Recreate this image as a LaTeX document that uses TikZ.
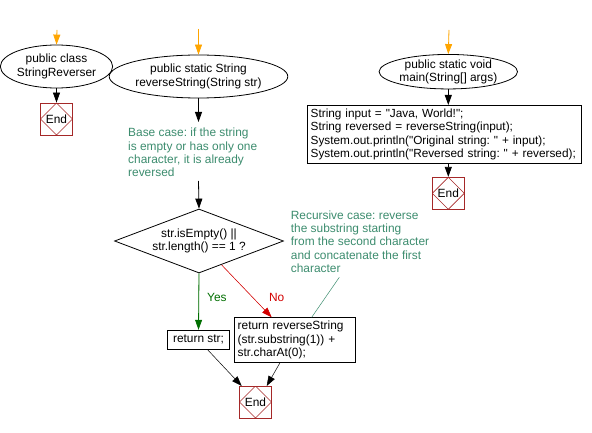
\documentclass[tikz,border=0pt]{standalone}
\usepackage{fontspec}
\setmainfont{Liberation Sans}
\usetikzlibrary{shapes.geometric,arrows.meta}
\definecolor{cmtgreen}{RGB}{60,140,110}
\definecolor{endred}{RGB}{165,40,40}
\definecolor{yesgreen}{RGB}{0,110,0}
\definecolor{nored}{RGB}{210,0,0}
\definecolor{startorange}{RGB}{255,165,0}
\newcommand{\qq}{\textquotedbl}
\frenchspacing
\tikzset{
  every node/.style={font=\fontsize{11.9}{13.3}\selectfont\frenchspacing, inner sep=0pt},
  oval/.style={draw, ellipse, align=center, line width=0.8pt},
  procbox/.style={draw, rectangle, line width=0.8pt, inner sep=3pt},
  endbox/.style={draw=endred, rectangle, minimum width=32pt, minimum height=32pt, line width=0.8pt,
    path picture={\draw[endred, line width=0.6pt] (path picture bounding box.north) -- (path picture bounding box.east) -- (path picture bounding box.south) -- (path picture bounding box.west) -- cycle;}},
  decision/.style={draw, diamond, aspect=2.64, align=center, line width=0.8pt},
  comment/.style={text=cmtgreen, align=left},
  arr/.style={-{Triangle[length=10pt,width=7pt]}, line width=0.8pt},
  startarr/.style={arr, draw=startorange, fill=startorange},
}
\begin{document}
\begin{tikzpicture}[x=1pt,y=-1pt]
\useasboundingbox (0,0) rectangle (592,433);
% left column
\coordinate (s1) at (57,30);
\node[oval, minimum width=103pt, minimum height=43pt] (c1) at (56.5,66.5) {public class\\StringReverser};
\node[endbox] (e1) at (56.5,119) {End};
\draw[startarr] (s1) -- (c1.north);
\draw[arr] (c1.south) -- (e1.north);
% middle column
\coordinate (s2) at (198.5,29);
\node[oval, minimum width=151pt, minimum height=43pt] (c2) at (198.5,76.5) {public static String\\reverseString(String str)};
\coordinate (m1) at (198.5,122);
\node[comment, anchor=west] (com1) at (128,152.5) {Base case: if the string\\is empty or has only one\\character, it is already\\reversed};
\coordinate (m2) at (198.5,181);
\node[decision, minimum width=169pt, minimum height=64pt] (d) at (199,241) {str.isEmpty() ||\\str.length() == 1 ?};
\node[procbox, minimum width=62pt, minimum height=19pt] (r1) at (198.5,339.7) {return str;};
\node[procbox, minimum width=121pt, minimum height=45pt, align=left, anchor=north west, text width=115pt] (r2) at (234.3,317.3) {return reverseString\\(str.substring(1)) +\\str.charAt(0);};
\node[endbox] (e2) at (255.5,402) {End};
\node[comment, anchor=west] (com2) at (290.7,241.5) {Recursive case: reverse\\the substring starting\\from the second character\\and concatenate the first\\character};
\draw[startarr] (s2) -- (c2.north);
\draw[arr] (c2.south) -- (m1);
\draw[arr] (m2) -- (d.north);
\draw[arr, draw=yesgreen, fill=yesgreen] (d.south) -- node[right=8pt, text=yesgreen, pos=0.42] (yes) {Yes} (r1.north);
\coordinate (dno) at (221.7,265);
\coordinate (rno) at (271.7,317.3);
\draw[arr, draw=nored, fill=nored, line width=0.5pt] (dno) -- (rno);
\node[text=nored] (no) at (276.7,297) {No};
\coordinate (r1b) at (207.3,349.4);
\coordinate (e2a) at (241.7,386);
\draw[arr, line width=0.5pt] (r1b) -- (e2a);
\coordinate (r2b) at (280,362.7);
\coordinate (e2b) at (266.7,386);
\draw[arr, line width=0.5pt] (r2b) -- (e2b);
\coordinate (r2t) at (311.7,317.3);
\coordinate (comend) at (339.3,277.3);
\draw[cmtgreen, line width=0.5pt] (r2t) -- (comend);
% right column
\coordinate (s3) at (449,30);
\node[oval, minimum width=123pt, minimum height=34pt] (c3) at (448.3,71.7) {public static void\\main(String[] args)};
\node[procbox, minimum width=274pt, minimum height=58pt, align=left, anchor=north west, text width=268pt, font=\fontsize{11.8}{13.3}\selectfont\frenchspacing] (b3) at (307.3,105) {String input = \qq Java, World!\qq;\\String reversed = reverseString(input);\\System.out.println(\qq Original string: \qq\ + input);\\System.out.println(\qq Reversed string: \qq\ + reversed);};
\node[endbox] (e3) at (448.3,193.3) {End};
\draw[startarr] (s3) -- (c3.north);
\draw[arr] (c3.south) -- (c3.south |- b3.north);
\draw[arr] (b3.south -| e3.north) -- (e3.north);
\end{tikzpicture}
\end{document}
